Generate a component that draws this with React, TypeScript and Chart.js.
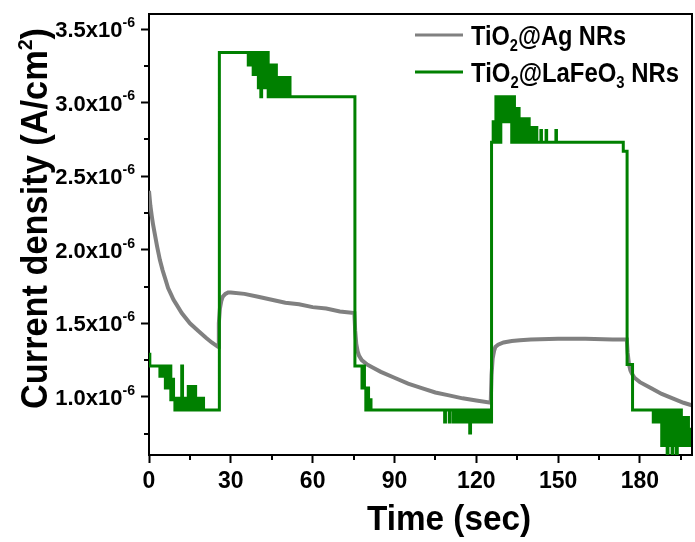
import React, { useEffect, useRef } from 'react';
import { Chart, registerables } from 'chart.js';

Chart.register(...registerables);

// ---------------- data ----------------
const seriesLabels = ['TiO₂@Ag NRs', 'TiO₂@LaFeO₃ NRs'];
const xTitle = 'Time (sec)';
const yTitle = 'Current density (A/cm²)';

const xTicks = [0, 30, 60, 90, 120, 150, 180];
const xMinorTicks = [15, 45, 75, 105, 135, 165, 195];
const yTicks = [1.0, 1.5, 2.0, 2.5, 3.0, 3.5];
const yMinorTicks = [0.75, 1.25, 1.75, 2.25, 2.75, 3.25];
const yTickSuffix = 'x10⁻⁶';

// TiO2@Ag NRs  (current in units of 1e-6 A/cm2)
const agTime = [
  0, 0.5, 1, 1.5, 2, 3, 4, 5, 6, 7, 8, 9, 10, 12, 15, 18, 21, 23, 25.3,
  25.6, 26, 26.5, 27, 28, 29, 30, 35, 40, 45, 50, 55, 60, 65, 70, 75.3,
  75.6, 76, 76.5, 77, 78, 80, 82, 85, 90, 95, 100, 105, 110, 115, 120, 125.3,
  125.6, 126, 126.5, 127, 128, 130, 133, 136, 140, 150, 160, 170, 175.2,
  175.5, 176, 176.5, 177, 178, 180, 184, 188, 192, 196, 199.5,
];
const agCurrent = [
  2.40, 2.30, 2.23, 2.17, 2.12, 2.02, 1.93, 1.86, 1.80, 1.74, 1.70, 1.66, 1.63, 1.57, 1.50, 1.45, 1.40, 1.37, 1.34,
  1.50, 1.60, 1.65, 1.68, 1.70, 1.71, 1.71, 1.70, 1.68, 1.66, 1.64, 1.63, 1.61, 1.60, 1.58, 1.57,
  1.45, 1.36, 1.31, 1.28, 1.25, 1.22, 1.20, 1.17, 1.13, 1.09, 1.06, 1.03, 1.01, 0.99, 0.975, 0.96,
  1.15, 1.26, 1.31, 1.34, 1.355, 1.37, 1.38, 1.385, 1.39, 1.395, 1.395, 1.39, 1.39,
  1.30, 1.22, 1.18, 1.16, 1.13, 1.10, 1.06, 1.02, 0.99, 0.96, 0.94,
];

// TiO2@LaFeO3 NRs (current in units of 1e-6 A/cm2), sample-and-hold readings
const lfoTime = [
  0, 0.3,
  4.0, 4.5, 5.0, 5.5, 6.0, 6.5, 7.0, 7.5, 8.0, 8.5, 9.0,
  9.5, 10.0, 10.5, 11.0, 11.5, 12.0, 12.3, 12.5, 13.0, 13.5, 14.0, 14.4, 14.7, 15.0, 15.5, 15.6, 15.9,
  16.3, 16.8, 17.1, 17.5, 18.0, 18.5, 19.0, 19.5, 20.0, 20.5,
  25.8,
  36.4, 36.9, 37.4, 37.9, 38.2, 38.7, 39.2, 39.7, 40.1, 40.6, 41.0, 41.3, 41.8, 42.3, 42.8, 43.3,
  43.7, 44.2, 44.7, 45.2, 45.7, 46.2, 46.7, 47.3, 47.8, 48.3, 48.8, 49.3, 49.8, 50.3, 50.8, 51.3, 51.7,
  75.5,
  78.1, 78.5, 79.0, 79.5, 80.0, 80.5, 81.0, 81.4,
  108.4, 108.7, 110.1, 110.4,
  111.6, 112.1, 112.6, 113.1, 113.6, 114.1, 114.6, 115.1, 115.6, 116.1, 116.6, 117.1, 117.6, 117.9,
  118.2, 118.7, 119.2, 119.7, 120.2, 120.7, 121.2, 121.7, 122.2, 122.7, 123.2, 123.7, 124.2, 124.7, 125.2,
  125.6, 126.2, 126.7,
  127.2, 127.7, 128.2, 128.7, 129.0,
  129.3, 129.8, 130.3, 130.8, 131.3, 131.8, 132.3, 132.8,
  133.0, 133.5, 134.0,
  134.2, 134.7, 135.2, 135.7,
  136.0, 136.5, 137.0, 137.5, 138.0, 138.5, 139.0, 139.4,
  139.7, 140.2, 140.7, 141.2, 141.7, 142.2,
  143.7, 143.9, 145.6, 145.8, 149.2, 149.4,
  173.9, 175.3, 177.3,
  184.9, 185.4, 185.9, 186.4, 186.9, 187.4,
  188.0, 188.5, 189.0, 189.5, 190.0, 190.3, 190.8, 191.3, 191.8, 192.1, 192.6, 193.1, 193.4, 193.7,
  194.2, 194.7, 195.2,
  195.4, 195.9, 196.4, 196.9, 197.4,
  197.8, 198.3, 198.8, 199.3, 199.6,
];
const lfoCurrent = [
  1.29, 1.21,
  1.14, 1.21, 1.14, 1.21, 1.06, 1.21, 1.06, 1.21, 0.98, 1.12, 0.98,
  0.91, 0.99, 0.91, 0.99, 0.91, 1.21, 0.91, 0.99, 0.91, 0.99, 0.91, 1.07, 0.91, 0.99, 0.91, 1.07, 0.91,
  0.99, 1.07, 0.91, 0.99, 0.91, 0.99, 0.91, 0.99, 0.91, 0.91,
  3.34,
  3.255, 3.34, 3.255, 3.34, 3.19, 3.34, 3.19, 3.34, 3.10, 3.34, 3.04, 3.34, 3.10, 3.34, 3.10, 3.34,
  3.04, 3.255, 3.04, 3.255, 3.04, 3.255, 3.04, 3.17, 3.04, 3.17, 3.04, 3.17, 3.04, 3.17, 3.04, 3.17, 3.04,
  1.21,
  1.06, 1.21, 1.06, 0.91, 1.06, 0.91, 0.98, 0.91,
  0.83, 0.91, 0.83, 0.91,
  0.83, 0.91, 0.83, 0.91, 0.83, 0.91, 0.83, 0.91, 0.83, 0.91, 0.83, 0.91, 0.755, 0.91,
  0.83, 0.91, 0.83, 0.91, 0.83, 0.91, 0.83, 0.91, 0.83, 0.91, 0.83, 0.91, 0.83, 0.91, 0.83,
  2.73, 2.87, 2.73,
  3.04, 2.73, 3.04, 2.73, 3.04,
  2.87, 3.04, 2.87, 3.04, 2.87, 3.04, 2.87, 3.04,
  2.73, 3.04, 2.73,
  2.96, 2.73, 2.96, 2.73,
  2.89, 2.73, 2.89, 2.73, 2.89, 2.73, 2.89, 2.73,
  2.83, 2.73, 2.83, 2.73, 2.83, 2.73,
  2.81, 2.73, 2.81, 2.73, 2.81, 2.73,
  2.67, 1.22, 0.91,
  0.83, 0.91, 0.83, 0.91, 0.83, 0.91,
  0.67, 0.91, 0.67, 0.91, 0.60, 0.91, 0.67, 0.91, 0.60, 0.91, 0.67, 0.91, 0.60, 0.91,
  0.67, 0.91, 0.67,
  0.86, 0.67, 0.86, 0.67, 0.86,
  0.67, 0.78, 0.67, 0.78, 0.67,
];

// ---------------- styling ----------------
const FONT = "'Liberation Sans', Arial, Helvetica, sans-serif";
const colors = ['#808080', '#008000'];
const X_MIN = 0;
const X_MAX = 199.1;
const Y_MIN = 0.605;
const Y_MAX = 3.602;

const SUB = '₀₁₂₃₄₅₆₇₈₉';
const SUP = '⁰¹²³⁴⁵⁶⁷⁸⁹';

type Seg = { t: string; kind: 'n' | 'sub' | 'sup' };
function splitRich(text: string): Seg[] {
  const out: Seg[] = [];
  for (const ch of text) {
    let kind: Seg['kind'] = 'n';
    let c = ch;
    const i = SUB.indexOf(ch);
    const j = SUP.indexOf(ch);
    if (i >= 0) { kind = 'sub'; c = String(i); }
    else if (j >= 0) { kind = 'sup'; c = String(j); }
    else if (ch === '⁻') { kind = 'sup'; c = '-'; }
    const last = out[out.length - 1];
    if (last && last.kind === kind) last.t += c;
    else out.push({ t: c, kind });
  }
  return out;
}

type RichOpts = { size: number; scriptScale: number; subShift: number; supShift: number };
function segFont(kind: Seg['kind'], o: RichOpts) {
  const s = kind === 'n' ? o.size : o.size * o.scriptScale;
  return `bold ${s}px ${FONT}`;
}
function richWidth(ctx: CanvasRenderingContext2D, text: string, o: RichOpts) {
  let w = 0;
  for (const seg of splitRich(text)) {
    ctx.font = segFont(seg.kind, o);
    w += ctx.measureText(seg.t).width;
  }
  return w;
}
function drawRich(ctx: CanvasRenderingContext2D, text: string, x: number, y: number, o: RichOpts, sx = 1) {
  ctx.save();
  ctx.translate(x, y);
  ctx.scale(sx, 1);
  ctx.textAlign = 'left';
  ctx.textBaseline = 'alphabetic';
  let cx = 0;
  for (const seg of splitRich(text)) {
    ctx.font = segFont(seg.kind, o);
    const dy = seg.kind === 'sub' ? o.size * o.subShift : seg.kind === 'sup' ? -o.size * o.supShift : 0;
    ctx.fillText(seg.t, cx, dy);
    cx += ctx.measureText(seg.t).width;
  }
  ctx.restore();
}

const decorPlugin = {
  id: 'decor',
  afterDraw(chart: any) {
    const ctx: CanvasRenderingContext2D = chart.ctx;
    const { left, right, top, bottom } = chart.chartArea;
    const xs = chart.scales.x;
    const ys = chart.scales.y;
    ctx.save();
    ctx.fillStyle = '#000';
    ctx.strokeStyle = '#000';
    ctx.lineWidth = 2;
    // frame top & right
    ctx.beginPath();
    ctx.moveTo(left, top);
    ctx.lineTo(right, top);
    ctx.lineTo(right, bottom);
    ctx.stroke();
    // minor ticks
    ctx.beginPath();
    for (const v of xMinorTicks) {
      const px = Math.round(xs.getPixelForValue(v));
      if (px < left - 1 || px > right + 1) continue;
      ctx.moveTo(px, bottom);
      ctx.lineTo(px, bottom + 5);
    }
    for (const v of yMinorTicks) {
      const py = Math.round(ys.getPixelForValue(v));
      if (py < top - 1 || py > bottom + 1) continue;
      ctx.moveTo(left, py);
      ctx.lineTo(left - 5, py);
    }
    ctx.stroke();

    // x tick labels
    ctx.font = `bold 23px ${FONT}`;
    ctx.textAlign = 'center';
    ctx.textBaseline = 'alphabetic';
    for (const v of xTicks) {
      ctx.fillText(String(v), xs.getPixelForValue(v), 488);
    }
    // y tick labels
    const yo: RichOpts = { size: 22, scriptScale: 0.64, subShift: 0.2, supShift: 0.46 };
    for (const v of yTicks) {
      const label = v.toFixed(1) + yTickSuffix;
      const w = richWidth(ctx, label, yo);
      const py = ys.getPixelForValue(v);
      drawRich(ctx, label, 135 - w, py + 8, yo);
    }
    // x title
    const xo: RichOpts = { size: 35, scriptScale: 0.6, subShift: 0.2, supShift: 0.4 };
    const xw = richWidth(ctx, xTitle, xo);
    drawRich(ctx, xTitle, 367, 530, xo, 164 / xw);
    // y title (rotated)
    const yto: RichOpts = { size: 37, scriptScale: 0.57, subShift: 0.2, supShift: 0.4 };
    const yw = richWidth(ctx, yTitle, yto);
    ctx.save();
    ctx.translate(47, 409);
    ctx.rotate(-Math.PI / 2);
    drawRich(ctx, yTitle, 0, 0, yto, 381 / yw);
    ctx.restore();

    // legend
    const lo: RichOpts = { size: 28, scriptScale: 0.62, subShift: 0.22, supShift: 0.4 };
    const rows = [
      { y: 35, base: 45, width: 155 },
      { y: 72, base: 81.5, width: 208 },
    ];
    seriesLabels.forEach((lab, i) => {
      const r = rows[i];
      ctx.strokeStyle = colors[i];
      ctx.lineWidth = 3;
      ctx.beginPath();
      ctx.moveTo(415, r.y);
      ctx.lineTo(463, r.y);
      ctx.stroke();
      ctx.fillStyle = '#000';
      const w = richWidth(ctx, lab, lo);
      drawRich(ctx, lab, 471, r.base, lo, r.width / w);
    });
    ctx.restore();
  },
};

export default function App() {
  const ref = useRef<HTMLCanvasElement>(null);
  useEffect(() => {
    const canvas = ref.current;
    if (!canvas) return;
    const chart = new Chart(canvas, {
      type: 'line',
      data: {
        datasets: [
          {
            label: seriesLabels[0],
            data: agTime.map((t, i) => ({ x: t, y: agCurrent[i] })),
            borderColor: colors[0],
            borderWidth: 4,
            pointRadius: 0,
            tension: 0,
            fill: false,
            order: 1,
            clip: 0,
          },
          {
            label: seriesLabels[1],
            data: lfoTime.map((t, i) => ({ x: t, y: lfoCurrent[i] })),
            borderColor: colors[1],
            borderWidth: 3,
            pointRadius: 0,
            tension: 0,
            stepped: 'before',
            fill: false,
            order: 0,
            clip: 0,
          },
        ],
      },
      options: {
        animation: false,
        responsive: false,
        devicePixelRatio: 1,
        layout: { padding: { top: 14, right: 3, left: 0, bottom: 0 } },
        plugins: {
          legend: { display: false },
          tooltip: { enabled: false },
          title: { display: false },
        },
        scales: {
          x: {
            type: 'linear',
            min: X_MIN,
            max: X_MAX,
            afterBuildTicks: (s: any) => {
              s.ticks = xTicks.map((v) => ({ value: v }));
            },
            afterFit: (s: any) => {
              s.height = 87;
            },
            ticks: { display: false },
            grid: {
              drawOnChartArea: false,
              drawTicks: true,
              tickLength: 8,
              tickWidth: 2,
              tickColor: '#000',
              color: '#000',
            },
            border: { display: true, color: '#000', width: 2 },
          },
          y: {
            type: 'linear',
            min: Y_MIN,
            max: Y_MAX,
            afterBuildTicks: (s: any) => {
              s.ticks = yTicks.map((v) => ({ value: v }));
            },
            afterFit: (s: any) => {
              s.width = 149;
            },
            ticks: { display: false },
            grid: {
              drawOnChartArea: false,
              drawTicks: true,
              tickLength: 8,
              tickWidth: 2,
              tickColor: '#000',
              color: '#000',
            },
            border: { display: true, color: '#000', width: 2 },
          },
        },
      },
      plugins: [decorPlugin],
    } as any);
    return () => chart.destroy();
  }, []);
  return (
    <div style={{ position: 'fixed', left: 0, top: 0, width: 695, height: 542, background: '#fff' }}>
      <canvas ref={ref} width={695} height={542} style={{ display: 'block', width: 695, height: 542 }} />
    </div>
  );
}
